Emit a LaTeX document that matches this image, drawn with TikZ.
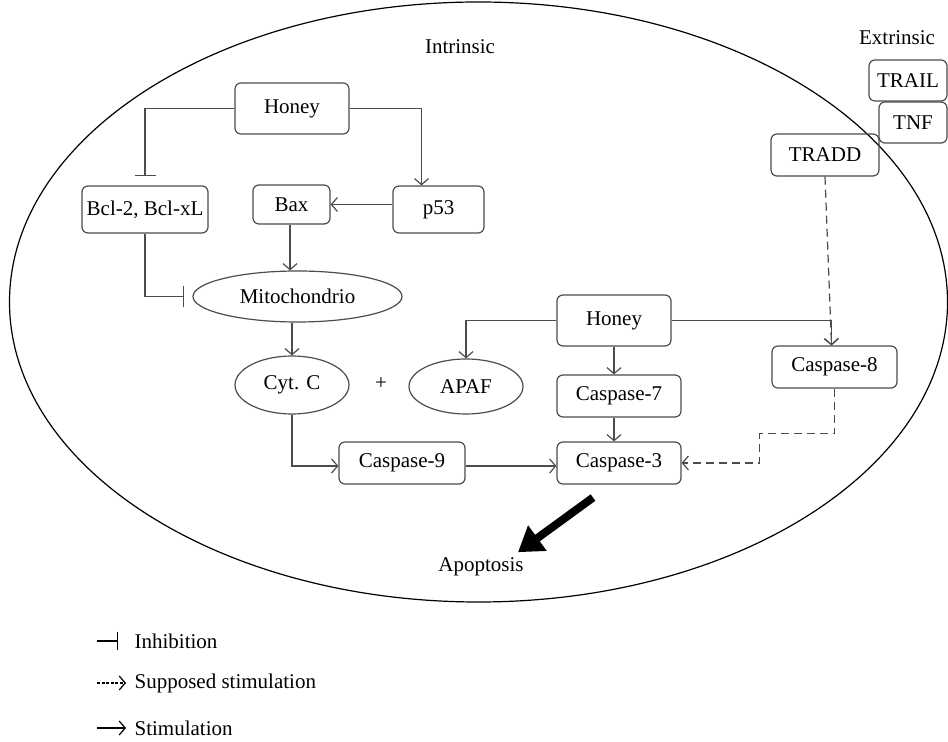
\documentclass[tikz,border=0pt]{standalone}
\usepackage{fontspec}
\setmainfont{Liberation Serif}
\usetikzlibrary{arrows.meta,shapes.geometric}

\begin{document}
\begin{tikzpicture}[x=0.5pt,y=-0.5pt,
    every node/.style={font=\fontsize{10.5}{12.6}\selectfont},
    every path/.style={line width=0.6pt},
    box/.style={draw=black!70,rounded corners=3pt,inner sep=0pt,minimum height=21pt},
    oval/.style={draw=black!70,ellipse,inner sep=0pt},
    stim/.style={draw=black!70,-{Straight Barb[length=3pt,width=7pt]}},
    sup/.style={stim,dash pattern=on 4pt off 2.5pt},
    inh/.style={draw=black!70,-{Bar[width=10.5pt]}},
    big/.style={line width=4pt,-{Triangle[length=12pt,width=15pt]}}]
          \useasboundingbox (0,0) rectangle (948,742);
          \draw (478.5,302) ellipse [x radius=234.5pt,y radius=150pt];

          \node (In) at (460,47) {Intrinsic};
          \node (Ex) at (897,38) {Extrinsic};

          \node[box,minimum width=39pt,minimum height=20.5pt] (TRAIL) at (908,80.5) {TRAIL};
          \node[box,minimum width=34pt,minimum height=20.5pt] (TNF) at (913,122.5) {TNF};
          \node[box,minimum width=54pt] (TRADD) at (825,155) {TRADD};

          \node[box,minimum width=57pt,minimum height=25.5pt] (H1) at (292,108.5) {Honey};
          \node[box,minimum width=63pt,minimum height=23.5pt] (Bcl) at (145,209.5) {Bcl-2, Bcl-xL};
          \node[box,minimum width=38.5pt,minimum height=19.5pt] (Bax) at (291.5,204.5) {Bax};
          \node[box,minimum width=45.5pt,minimum height=23.5pt] (P53) at (438.5,209.5) {p53};
          \node[oval,minimum width=104.5pt,minimum height=25.5pt] (Mito) at (297.5,296.5) {Mitochondrio};

          \node[oval,minimum width=57pt,minimum height=29pt] (CytC) at (292,385) {Cyt. C};
          \node (plus) at (381,384) {+};
          \node[oval,minimum width=57pt,minimum height=27.5pt] (APAF) at (466,386.5) {APAF};
          \node[box,minimum width=57pt,minimum height=25.5pt] (H2) at (614,320.5) {Honey};
          \node[box,minimum width=62pt] (C7) at (619,396) {Caspase-7};
          \node[box,minimum width=62pt] (C3) at (619,463) {Caspase-3};
          \node[box,minimum width=63pt] (C9) at (402,463) {Caspase-9};
          \node[box,minimum width=62.5pt] (C8) at (834.5,367) {Caspase-8};
          \node[inner sep=0pt] (Apop) at (481,567) {Apoptosis};

          \draw[inh,shorten >=4.5pt] (H1.west) -| (Bcl.north);
          \draw[stim] (H1.east) -| ([xshift=-8.5pt]P53.north);
          \draw[stim] (P53.west |- Bax.east) -- (Bax.east);
          \draw[stim] ([xshift=-0.75pt]Bax.south) -- ([xshift=-0.75pt]Bax.south |- Mito.north);
          \draw[inh,shorten >=4pt] (Bcl.south) |- (Mito.west);
          \draw[stim] (CytC.north |- Mito.south) -- (CytC.north);
          \draw[stim] (CytC.south) |- ([yshift=-1.5pt]C9.west);
          \draw[stim] ([yshift=-1.5pt]C9.east) -- ([yshift=-1.5pt]C3.west);
          \draw[stim] (H2.west) -| (APAF.north);
          \draw[stim] (H2.south) -- (H2.south |- C7.north);
          \draw[stim] (C7.south -| H2.south) -- (C3.north -| H2.south);
          \draw[stim] (H2.east) -| ([xshift=-1.5pt]C8.north);
          \draw[sup] (TRADD.south) -- ([xshift=-1.5pt]C8.north);
          \draw[sup] (C8.south) -- ++(0,45) -| ([xshift=39pt]C3.east) -- (C3.east);
          \draw[big] ([shift={(-26,13)}]C3.south) -- ([shift={(37,-5)}]Apop.north);

          % legend
          \coordinate (L1) at (97,641);
          \coordinate (L2) at (97,683);
          \coordinate (L3) at (97,728);
          \node[anchor=west,inner sep=0pt] (Inh) at (134,641) {Inhibition};
          \node[anchor=west,inner sep=0pt] (Sup) at (134,683) {Supposed stimulation};
          \node[anchor=west,inner sep=0pt] (Sti) at (134,728) {Stimulation};
          \draw[-{Bar[width=9pt]}] (L1) -- ([xshift=-8pt]Inh.west);
          \draw[-{Straight Barb[length=3pt,width=7pt]},dash pattern=on 1.5pt off 0.8pt] (L2) -- ([xshift=-4pt]Sup.west);
          \draw[-{Straight Barb[length=3pt,width=7pt]}] (L3) -- ([xshift=-4pt]Sti.west);
        \end{tikzpicture}
\end{document}
